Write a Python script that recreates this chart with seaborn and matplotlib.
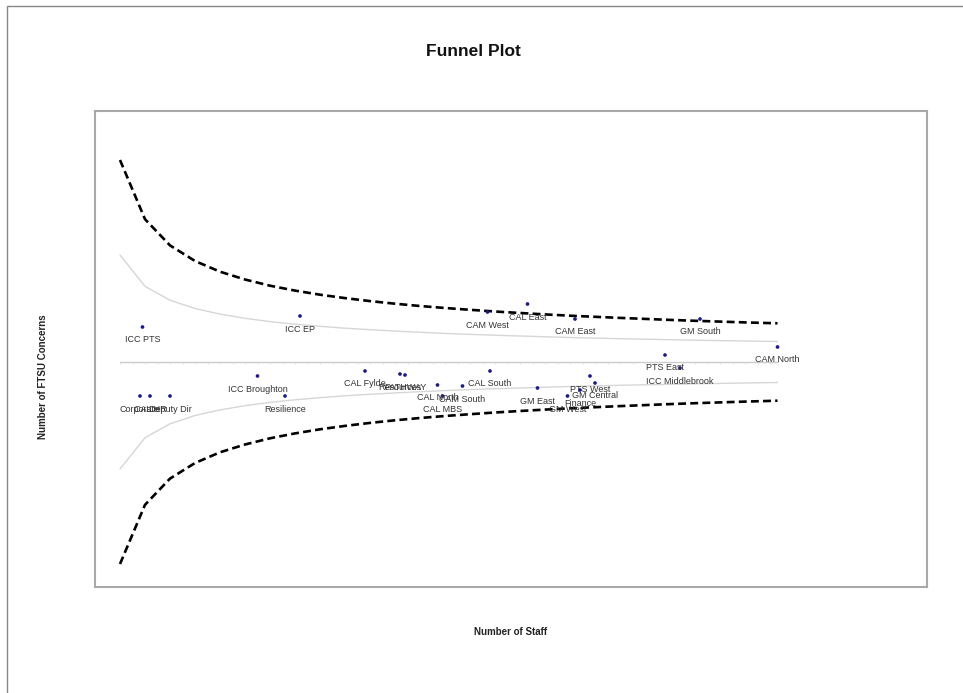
import matplotlib
matplotlib.use("Agg")
import matplotlib.pyplot as plt
import matplotlib.patches as mpatches
import numpy as np
import pandas as pd
import seaborn as sns

# Units: staff numbers and FTSU concerns (scaled rate, centred on the mean)
units = ["ICC PTS", "ICC EP", "CAM West", "CAL East", "CAM East", "GM South",
         "PTS East", "ICC Middlebrook", "CAM North", "ICC Broughton", "Resilience",
         "Corporate", "CAL HR", "Deputy Dir", "CAL Fylde", "Resources", "PATHWAY",
         "CAL North", "CAM South", "CAL MBS", "CAL South", "GM East", "Finance",
         "PTS West", "GM Central", "GM West"]
staff = [19, 82, 157, 173, 192, 242,
         228, 234, 273, 65, 76,
         18, 22, 30, 108, 122, 124,
         137, 147, 139, 158, 177, 194,
         198, 200, 189]
concerns = [1.35, 1.46, 1.50, 1.58, 1.43, 1.43,
            1.07, 0.94, 1.15, 0.86, 0.66,
            0.66, 0.66, 0.66, 0.91, 0.88, 0.87,
            0.77, 0.76, 0.66, 0.91, 0.74, 0.72,
            0.86, 0.79, 0.66]

# Control limits along the staff axis
limit_staff = [10, 20, 30, 40, 50, 60, 70, 80, 90, 100, 110, 120, 130, 140,
               150, 160, 170, 180, 190, 200, 210, 220, 230, 240, 250, 260, 270, 273]
mean_rate = 1.0
outer_half = [2.020, 1.428, 1.166, 1.010, 0.903, 0.825, 0.763, 0.714, 0.673,
              0.639, 0.609, 0.583, 0.560, 0.540, 0.522, 0.505, 0.490, 0.476,
              0.463, 0.452, 0.441, 0.431, 0.421, 0.412, 0.404, 0.396, 0.389, 0.387]
inner_half = [1.070, 0.757, 0.618, 0.535, 0.479, 0.437, 0.404, 0.378, 0.357,
              0.338, 0.323, 0.309, 0.297, 0.286, 0.276, 0.268, 0.260, 0.252,
              0.245, 0.239, 0.233, 0.228, 0.223, 0.218, 0.214, 0.210, 0.206, 0.205]

sns.set_theme(style="white")
plt.rcParams["font.family"] = ["Liberation Sans", "DejaVu Sans"]

points = pd.DataFrame({"unit": units, "staff": staff, "concerns": concerns})
lim = pd.DataFrame({"staff": limit_staff,
                    "centre": [mean_rate] * len(limit_staff),
                    "upper_outer": [mean_rate + h for h in outer_half],
                    "lower_outer": [mean_rate - h for h in outer_half],
                    "upper_inner": [mean_rate + h for h in inner_half],
                    "lower_inner": [mean_rate - h for h in inner_half]})

fig = plt.figure(figsize=(9.63, 6.93), dpi=100)
ax = fig.add_axes([95 / 963, 1 - 587 / 693, 832 / 963, 476 / 693])

# Inner limits (thin grey)
for col in ["upper_inner", "lower_inner"]:
    sns.lineplot(data=lim, x="staff", y=col, ax=ax, color="#d6d6d6", lw=1.0)
# Centre line with faint tick marks
ax.plot(lim["staff"], lim["centre"], color="#cccccc", lw=1.0, zorder=1)
tick_x = np.arange(10, 275, 5)
ax.plot(tick_x, [mean_rate] * len(tick_x), ls="none", marker=3,
        markersize=1.6, markeredgewidth=0.6, color="#dadada", zorder=1)
# Outer limits (heavy dashed black)
for col in ["upper_outer", "lower_outer"]:
    sns.lineplot(data=lim, x="staff", y=col, ax=ax, color="black", lw=1.9,
                 dashes=False)
for line in ax.get_lines()[-2:]:
    line.set_dashes((3, 1.6))

sns.scatterplot(data=points, x="staff", y="concerns", ax=ax, color="#1a1a8c",
                s=7, edgecolor="none", zorder=3)
for u, xs, yc in zip(units, staff, concerns):
    ax.annotate(u, (xs, yc), xytext=(0, -13), textcoords="offset pixels",
                ha="center", va="center", fontsize=6.5, color="#333333",
                zorder=4)

ax.set_xlim(0, 332.8)
ax.set_ylim(-1.25, 3.51)
ax.set_xticks([])
ax.set_yticks([])
ax.set_xlabel("")
ax.set_ylabel("")
for sp in ax.spines.values():
    sp.set_color("#a8a8a8")
    sp.set_linewidth(1.5)

fig.text(473 / 963, 1 - 52 / 693, "Funnel Plot", ha="center", va="center",
         fontsize=12.5, fontweight="bold", color="#111111")
fig.text(511 / 963, 1 - 632 / 693, "Number of Staff", ha="center", va="center",
         fontsize=7, fontweight="bold", color="#222222")
fig.text(43 / 963, 1 - 377 / 693, "Number of FTSU Concerns", ha="center",
         va="center", rotation=90, fontsize=7, fontweight="bold", color="#222222")

# Page frame
fig.patches.append(mpatches.Rectangle((7 / 963, -0.1), 1.2, 1.1 - 6 / 693,
                                      transform=fig.transFigure, fill=False,
                                      edgecolor="#888888", lw=1.0))

fig.savefig("out.png", dpi=100)
